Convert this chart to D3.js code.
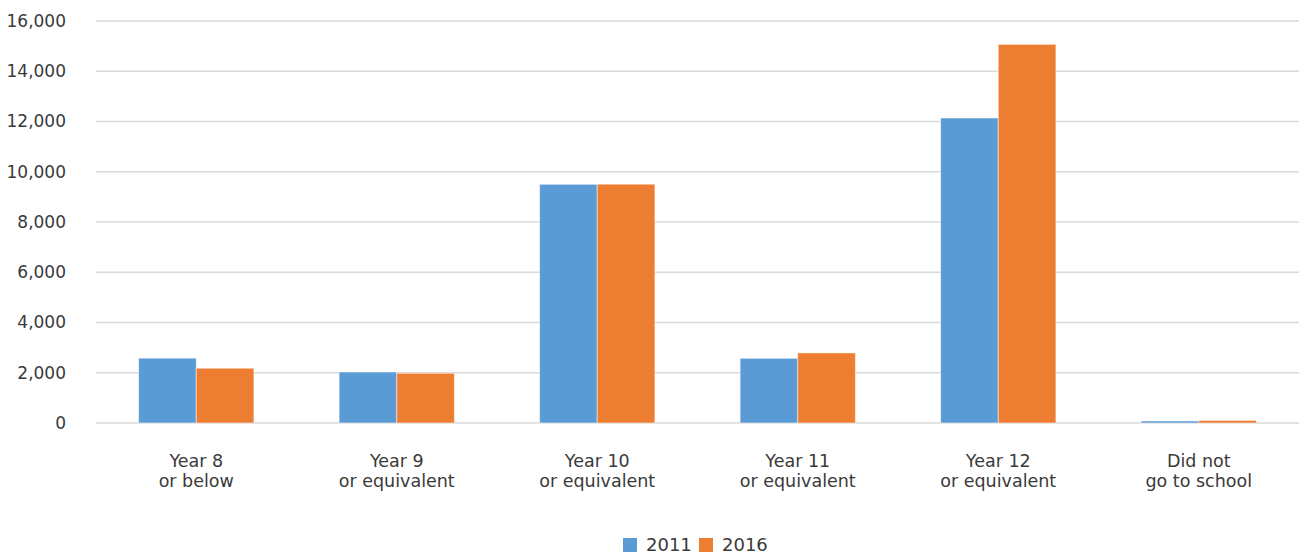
<!DOCTYPE html>
<html><head><meta charset="utf-8">
<script src="https://cdn.jsdelivr.net/npm/d3@7"></script>
<style>body{margin:0;background:#fff}svg{display:block}text{font-family:"DejaVu Sans",sans-serif;fill:#3a3a3a}</style>
</head><body><svg id="c" width="1300" height="555"></svg>
<script>
const categories = [["Year 8","or below"],["Year 9","or equivalent"],["Year 10","or equivalent"],["Year 11","or equivalent"],["Year 12","or equivalent"],["Did not","go to school"]];
const seriesNames = ["2011","2016"];
const values2011 = [2580, 2030, 9500, 2575, 12140, 80];
const values2016 = [2180, 1980, 9505, 2790, 15070, 100];
const colors = ["#5b9bd5","#ed7d31"];
const yTicks = [0,2000,4000,6000,8000,10000,12000,14000,16000];

const svg = d3.select("#c");
const m = {l:96, r:1299, t:21, b:423};
const x = d3.scaleBand().domain(d3.range(categories.length)).range([m.l, m.r]).paddingInner(0).paddingOuter(0);
const y = d3.scaleLinear().domain([0,16000]).range([m.b, m.t]);
const groupW = x.bandwidth()*0.575;
const inner = d3.scaleBand().domain([0,1]).range([0, groupW]);

// grid
svg.append("g").selectAll("line").data(yTicks).join("line")
  .attr("x1", m.l).attr("x2", m.r).attr("y1", d=>y(d)).attr("y2", d=>y(d))
  .attr("stroke","#d9d9d9").attr("stroke-width",1.5);

// y labels
const yAxis = d3.axisLeft(y).tickValues(yTicks).tickFormat(d3.format(",")).tickSize(0).tickPadding(0);
const ga = svg.append("g").attr("transform","translate(66,0)").call(yAxis);
ga.select(".domain").remove();
ga.selectAll("text").style("font-size","17px").style("font-family","DejaVu Sans").attr("fill","#3a3a3a");

// bars
const series = [values2011, values2016];
series.forEach((vals, si) => {
  svg.append("g").selectAll("rect").data(vals).join("rect")
    .attr("x", (d,i)=> x(i) + (x.bandwidth()-groupW)/2 + inner(si))
    .attr("width", inner.bandwidth())
    .attr("y", d=>y(d)).attr("height", d=>y(0)-y(d))
    .attr("fill", colors[si]).attr("stroke","rgba(255,255,255,0.5)").attr("stroke-width",1);
});

// category labels
const gc = svg.append("g");
categories.forEach((c,i)=>{
  const cx = x(i)+x.bandwidth()/2;
  const t = gc.append("text").attr("x", cx).attr("y",467).attr("text-anchor","middle").style("font-size","17.5px");
  c.forEach((line,j)=> t.append("tspan").attr("x", cx).attr("dy", j?19.5:0).text(line));
});

// legend
const lg = svg.append("g");
const lx = [623, 699];
seriesNames.forEach((s,i)=>{
  lg.append("rect").attr("x",lx[i]).attr("y",538).attr("width",14).attr("height",14).attr("fill",colors[i]);
  lg.append("text").attr("x",lx[i]+23).attr("y",551).style("font-size","18px").text(s);
});
</script></body></html>
